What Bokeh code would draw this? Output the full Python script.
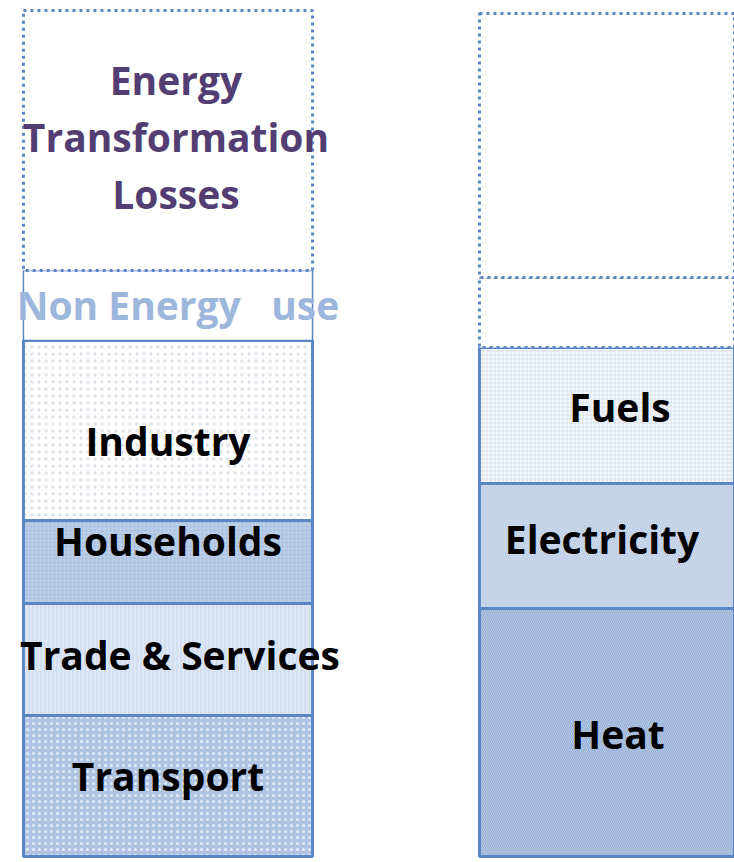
from bokeh.plotting import figure
from bokeh.models import Range1d
from bokeh.core.properties import value
from bokeh.embed import file_html
from bokeh.resources import INLINE

# ---- data (segment sizes, stacked bottom -> top) ----
left_labels = ["Transport", "Trade & Services", "Households", "Industry",
               "Non Energy\u00a0\u00a0\u00a0use", "Energy\nTransformation\nLosses"]
left_values = [141, 112, 83, 180, 70, 260]

right_labels = ["Heat", "Electricity", "Fuels", "", ""]
right_values = [248, 125, 136, 70, 264]

bar_positions = [0, 1]

# ---- styles ----
DOT = "3 4"
left_styles = [
    dict(fill="#AFC4E2", hatch="dot", hcol="#E2EAF6", hs=6, dash="solid", lw=3, tcol="#000000", dy=11),
    dict(fill="#D3DFF1", hatch="vertical_line", hcol="#E6EDF8", hs=4, dash="solid", lw=3, tcol="#000000", dy=5),
    dict(fill="#BACDE7", hatch="dot", hcol="#A2B9DC", hs=4, dash="solid", lw=3, tcol="#000000", dy=22),
    dict(fill="#FFFFFF", hatch="dot", hcol="#DEE2EA", hs=7, dash="solid", lw=3, tcol="#000000", dy=-10),
    dict(fill="#FFFFFF", hatch=None, hcol=None, hs=1, dash="solid", lw=1.5, tcol="#9DB6DC", dy=1),
    dict(fill="#FFFFFF", hatch=None, hcol=None, hs=1, dash=DOT, lw=3, tcol="#523E72", dy=4),
]
right_styles = [
    dict(fill="#B2C7E4", hatch="left_diagonal_line", hcol="#98B0D6", hs=4, dash="solid", lw=3, tcol="#000000", dy=-1),
    dict(fill="#CFDCEF", hatch="left_diagonal_line", hcol="#BACAE2", hs=4, dash="solid", lw=3, tcol="#000000", dy=8),
    dict(fill="#F4F7FB", hatch="cross", hcol="#DCE3EE", hs=4, dash="solid", lw=3, tcol="#000000", dy=9),
    dict(fill="#FFFFFF", hatch=None, hcol=None, hs=1, dash=DOT, lw=3, tcol="#000000", dy=0),
    dict(fill="#FFFFFF", hatch=None, hcol=None, hs=1, dash=DOT, lw=3, tcol="#000000", dy=0),
]

BAR_W = 0.634
EDGE = "#5A86C6"
FONT = "Open Sans"
FS = "39px"

p = figure(width=734, height=862, output_backend="svg", toolbar_location=None,
           x_range=Range1d(-0.3673, 1.2423), y_range=Range1d(-6, 856),
           min_border=0, outline_line_color=None)
p.axis.visible = False
p.xgrid.visible = False
p.ygrid.visible = False
p.background_fill_color = "white"
p.border_fill_color = "white"


def draw_bar(x, labels, values, styles, text_dx):
    bottom = 0
    for v, st in zip(values, styles):
        top = bottom + v
        kw = dict(fill_color=st["fill"], line_color=EDGE, line_width=st["lw"],
                  line_dash=st["dash"])
        if st["hatch"]:
            kw.update(hatch_pattern=st["hatch"], hatch_color=st["hcol"],
                      hatch_scale=st["hs"], hatch_weight=1)
        p.vbar(x=[x], bottom=[bottom], top=[top], width=BAR_W, **kw)
        bottom = top
    bottom = 0
    for lab, v, st in zip(labels, values, styles):
        top = bottom + v
        if lab:
            lines = lab.split("\n")
            mid = (bottom + top) / 2 + st["dy"]
            n = len(lines)
            step = 57
            for i, line in enumerate(lines):
                yy = mid + ((n - 1) / 2 - i) * step
                p.text(x=[x], y=[yy], text=[line], text_align="center",
                       text_baseline="middle", text_font=value(FONT),
                       text_font_style="bold", text_font_size=FS,
                       text_color=st["tcol"], x_offset=text_dx.get(lab, 0))
        bottom = top


draw_bar(bar_positions[0], left_labels, left_values, left_styles,
         {"Trade & Services": 12, "Non Energy\u00a0\u00a0\u00a0use": 10,
          "Energy\nTransformation\nLosses": 8})
draw_bar(bar_positions[1], right_labels, right_values, right_styles,
         {"Electricity": -22, "Fuels": -4, "Heat": -6})

open("out.html", "w").write(file_html(p, INLINE))
